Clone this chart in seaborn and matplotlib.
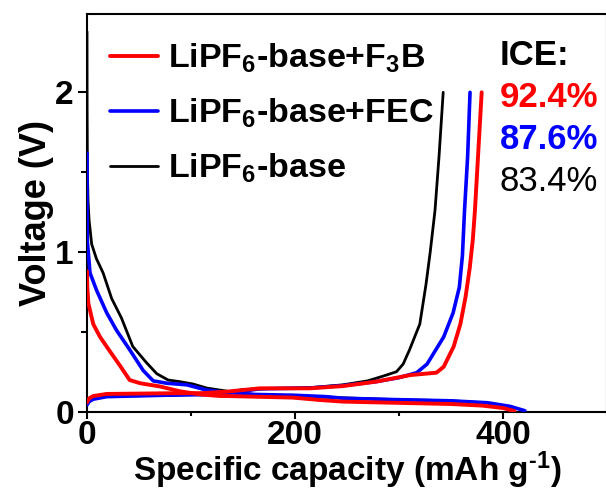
import pandas as pd
import matplotlib
matplotlib.use("Agg")
import matplotlib.pyplot as plt
from matplotlib.ticker import MultipleLocator
import seaborn as sns

# --- DATA ---
red_dis_x = [0, 0.3, 1.3, 6, 12.5, 22, 31.7, 41, 51, 70, 89, 108.6, 128, 134, 166, 198, 224, 246, 294, 350, 380, 400, 411]
red_dis_y = [0.88, 0.78, 0.68, 0.55, 0.47, 0.38, 0.29, 0.20, 0.18, 0.16, 0.13, 0.11, 0.10, 0.10, 0.095, 0.09, 0.075, 0.065, 0.058, 0.05, 0.04, 0.025, 0.006]
red_chg_x = [0, 2, 6, 19, 76, 110, 134, 166, 214, 246, 278, 311, 336, 343, 352.6, 359, 364, 368, 371, 373, 376, 379.5]
red_chg_y = [0.06, 0.085, 0.10, 0.113, 0.117, 0.118, 0.127, 0.148, 0.148, 0.162, 0.19, 0.231, 0.246, 0.283, 0.41, 0.55, 0.72, 0.9, 1.08, 1.26, 1.6, 2.0]

blue_dis_x = [0, 0.05, 0.3, 2.9, 9.3, 19, 28.5, 41, 54, 63.6, 76.6, 96, 115, 128, 160, 198, 230, 246, 294, 350, 385, 407, 421]
blue_dis_y = [1.62, 1.3, 1.07, 0.87, 0.76, 0.62, 0.51, 0.39, 0.26, 0.195, 0.18, 0.17, 0.137, 0.127, 0.11, 0.105, 0.096, 0.086, 0.078, 0.07, 0.058, 0.035, 0.008]
blue_chg_x = [0, 2, 6, 19, 76, 128, 166, 214, 246, 278, 300, 317, 327, 343, 352, 358, 361, 363, 366, 368.3]
blue_chg_y = [0.044, 0.065, 0.08, 0.096, 0.105, 0.11, 0.145, 0.15, 0.165, 0.19, 0.215, 0.246, 0.30, 0.47, 0.62, 0.78, 0.98, 1.26, 1.6, 2.0]

black_dis_x = [0, 0.1, 0.4, 1.0, 2.0, 4.5, 9, 15.5, 23.7, 33, 44, 57, 67, 78, 89, 102, 115, 128, 145, 170, 200, 240, 294, 350, 385, 403, 410]
black_dis_y = [2.38, 1.9, 1.5, 1.32, 1.2, 1.05, 0.96, 0.87, 0.71, 0.59, 0.41, 0.31, 0.24, 0.20, 0.19, 0.175, 0.15, 0.137, 0.12, 0.105, 0.1, 0.09, 0.078, 0.07, 0.056, 0.03, 0.008]
black_chg_x = [0, 3, 10, 30, 80, 128, 150, 180, 214, 246, 270, 285, 297.6, 304, 310, 320, 326, 330, 334.6, 338.5, 342.5]
black_chg_y = [0.05, 0.08, 0.095, 0.1, 0.105, 0.115, 0.14, 0.148, 0.152, 0.17, 0.195, 0.225, 0.252, 0.3, 0.387, 0.55, 0.8, 1.0, 1.26, 1.6, 2.0]

labels = ["LiPF$_6$-base+F$_3$B", "LiPF$_6$-base+FEC", "LiPF$_6$-base"]
ice_values = ["92.4%", "87.6%", "83.4%"]
x_ticks = [0, 200, 400]
y_ticks = [0, 1, 2]

# --- STYLE ---
sns.set_style("ticks")
plt.rcParams['font.family'] = ['Liberation Sans', 'DejaVu Sans']
plt.rcParams['font.weight'] = 'bold'
plt.rcParams['mathtext.fontset'] = 'custom'
plt.rcParams['mathtext.bf'] = 'Liberation Sans:bold'
plt.rcParams['mathtext.rm'] = 'Liberation Sans:bold'
plt.rcParams['mathtext.default'] = 'bf'
for key in ['text.color', 'axes.labelcolor', 'xtick.color', 'ytick.color', 'axes.edgecolor']:
    plt.rcParams[key] = 'black'

fig = plt.figure(figsize=(6.06, 4.90), dpi=100)
ax = fig.add_axes([87 / 606, 1 - 412 / 490, 520 / 606, 398 / 490])

curves = [
    ("black", 2.0, black_dis_x, black_dis_y, black_chg_x, black_chg_y, labels[2]),
    ("#0000FF", 2.6, blue_dis_x, blue_dis_y, blue_chg_x, blue_chg_y, labels[1]),
    ("#FF0000", 2.8, red_dis_x, red_dis_y, red_chg_x, red_chg_y, labels[0]),
]
handles = {}
for color, lw, dx, dy, cx, cy, lab in curves:
    sns.lineplot(x=dx, y=dy, color=color, linewidth=lw, sort=False, estimator=None, ax=ax, zorder=3)
    sns.lineplot(x=cx, y=cy, color=color, linewidth=lw, sort=False, estimator=None, ax=ax, zorder=3)
    handles[lab] = ax.lines[-1]

ax.set_xlim(0, 500)
ax.set_ylim(0, 2.49)
ax.set_xticks(x_ticks)
ax.set_yticks(y_ticks)
ax.xaxis.set_minor_locator(MultipleLocator(100))
ax.yaxis.set_minor_locator(MultipleLocator(0.5))
for s in ax.spines.values():
    s.set_linewidth(1.5)
    s.set_color('black')
ax.tick_params(axis='both', which='major', width=1.5, labelsize=24, direction='out', colors='black')
ax.tick_params(axis='x', which='major', length=5, pad=1)
ax.tick_params(axis='y', which='major', length=6.5, pad=3)
ax.tick_params(axis='x', which='minor', length=3, width=1.5, colors='black')
ax.tick_params(axis='y', which='minor', length=4, width=1.5, colors='black')
for t in ax.get_xticklabels() + ax.get_yticklabels():
    t.set_fontweight('bold')

ax.set_xlabel("Specific capacity (mAh g$^{\\text{-}1}$)", fontsize=24, fontweight='bold', labelpad=-1.5)
ax.set_ylabel("Voltage (V)", fontsize=26, fontweight='bold', labelpad=1)

leg = ax.legend([handles[l] for l in labels], labels, loc='upper left',
                bbox_to_anchor=(0.044, 0.93), frameon=False, fontsize=24.5,
                handlelength=1.4, handletextpad=0.3, labelspacing=0.63,
                borderpad=0, borderaxespad=0)
for t in leg.get_texts():
    t.set_fontweight('bold')

# --- ICE annotation ---
ax.text(397, 2.23, "ICE:", fontsize=25, fontweight='bold', color='black', va='center', ha='left')
ice_colors = ["#FF0000", "#0000FF", "black"]
ice_weights = ['bold', 'bold', 'normal']
for i, (val, c, w) in enumerate(zip(ice_values, ice_colors, ice_weights)):
    ax.text(397, 1.97 - 0.265 * i, val, fontsize=25, fontweight=w, color=c, va='center', ha='left')

plt.savefig("out.png", dpi=100)
plt.close()
